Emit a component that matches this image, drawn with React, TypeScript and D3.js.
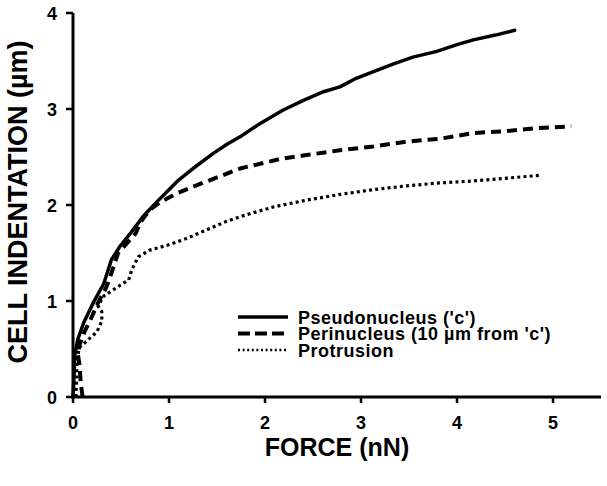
import React from "react";
import * as d3 from "d3";

const xTicks = [0, 1, 2, 3, 4, 5];
const yTicks = [0, 1, 2, 3, 4];

const pseudonucleus: [number, number][] = [
  [0, 0], [0.01, 0.2], [0.02, 0.45], [0.05, 0.6], [0.11, 0.77], [0.21, 0.98], [0.32, 1.18],
  [0.4, 1.43], [0.49, 1.57], [0.61, 1.72], [0.73, 1.88], [0.87, 2.03], [1.01, 2.17],
  [1.1, 2.26], [1.25, 2.38], [1.45, 2.53], [1.6, 2.63], [1.74, 2.71], [1.95, 2.85],
  [2.19, 2.99], [2.4, 3.09], [2.61, 3.18], [2.78, 3.23], [2.95, 3.32], [3.13, 3.39],
  [3.34, 3.47], [3.54, 3.54], [3.79, 3.6], [4.0, 3.67], [4.17, 3.72], [4.4, 3.77], [4.6, 3.82],
];

const perinucleus: [number, number][] = [
  [0.1, 0], [0.08, 0.15], [0.07, 0.32], [0.05, 0.45], [0.07, 0.55], [0.12, 0.68], [0.18, 0.8],
  [0.26, 0.98], [0.35, 1.15], [0.4, 1.29], [0.47, 1.5], [0.56, 1.6], [0.65, 1.7], [0.71, 1.83],
  [0.8, 1.95], [0.91, 2.03], [1.08, 2.12], [1.25, 2.19], [1.43, 2.26], [1.74, 2.38],
  [1.95, 2.43], [2.16, 2.48], [2.43, 2.52], [2.78, 2.57], [3.13, 2.61], [3.47, 2.66],
  [3.82, 2.69], [4.17, 2.75], [4.52, 2.77], [4.83, 2.8], [5.19, 2.82],
];

const protrusion: [number, number][] = [
  [0.03, 0], [0.04, 0.2], [0.04, 0.4], [0.07, 0.52], [0.14, 0.58], [0.25, 0.68], [0.3, 0.79],
  [0.3, 0.89], [0.26, 0.95], [0.32, 1.05], [0.47, 1.15], [0.58, 1.22], [0.61, 1.32],
  [0.68, 1.46], [0.8, 1.53], [0.98, 1.58], [1.18, 1.65], [1.39, 1.74], [1.6, 1.83],
  [1.81, 1.9], [2.09, 1.98], [2.43, 2.05], [2.78, 2.11], [3.13, 2.16], [3.48, 2.2],
  [3.82, 2.23], [4.17, 2.25], [4.52, 2.28], [4.88, 2.31],
];

const seriesNames = ["Pseudonucleus ('c')", "Perinucleus (10 µm from 'c')", "Protrusion"];

export default function App() {
  const x = d3.scaleLinear().domain([0, 5.5]).range([73, 601]);
  const y = d3.scaleLinear().domain([0, 4]).range([397, 13]);
  const line = d3
    .line<[number, number]>()
    .x((d) => x(d[0]))
    .y((d) => y(d[1]));

  const font = "'Liberation Sans', Arial, sans-serif";
  const styles = [
    { dash: undefined as string | undefined, width: 3.5, cap: "round" as const },
    { dash: "10 6", width: 4, cap: "butt" as const },
    { dash: "3 3.2", width: 3.2, cap: "butt" as const },
  ];
  const legendStyles = [
    { dash: undefined as string | undefined, width: 3.5, cap: "butt" as const },
    { dash: "12 5", width: 4, cap: "butt" as const },
    { dash: "2 2.6", width: 2.6, cap: "butt" as const },
  ];
  const data = [pseudonucleus, perinucleus, protrusion];
  const legendY = [317, 333.5, 350];

  return (
    <svg
      width={607}
      height={486}
      style={{ position: "absolute", left: 0, top: 0, display: "block", background: "#fff" }}
      fontFamily={font}
      fontWeight="bold"
    >
      <rect width={607} height={486} fill="#fff" />
      {data.map((d, i) => (
        <path
          key={i}
          d={line(d) || ""}
          fill="none"
          stroke="#000"
          strokeWidth={styles[i].width}
          strokeDasharray={styles[i].dash}
          strokeLinecap={styles[i].cap}
          strokeLinejoin="round"
        />
      ))}
      {/* axes */}
      <line x1={x(0)} x2={x(0)} y1={y(0) + 1.5} y2={y(4)} stroke="#000" strokeWidth={3} />
      <line x1={x(0) - 1.5} x2={x(5.5)} y1={y(0)} y2={y(0)} stroke="#000" strokeWidth={3} />
      {yTicks.map((t) => (
        <g key={"y" + t}>
          <line x1={x(0) - 7} x2={x(0)} y1={y(t)} y2={y(t)} stroke="#000" strokeWidth={2.5} />
          <text x={57} y={y(t) + 6.5} textAnchor="end" fontSize={18}>
            {t}
          </text>
        </g>
      ))}
      {xTicks.map((t) => (
        <g key={"x" + t}>
          <line x1={x(t)} x2={x(t)} y1={y(0)} y2={y(0) + 6} stroke="#000" strokeWidth={2.5} />
          <text x={x(t)} y={429} textAnchor="middle" fontSize={18}>
            {t}
          </text>
        </g>
      ))}
      <text x={337} y={456} textAnchor="middle" fontSize={25}>
        FORCE (nN)
      </text>
      <text transform="translate(27,202) rotate(-90)" textAnchor="middle" fontSize={27}>
        CELL INDENTATION (µm)
      </text>
      {/* legend */}
      {seriesNames.map((name, i) => (
        <g key={name}>
          <line
            x1={238}
            x2={288}
            y1={legendY[i]}
            y2={legendY[i]}
            stroke="#000"
            strokeWidth={legendStyles[i].width}
            strokeDasharray={legendStyles[i].dash}
            strokeLinecap={legendStyles[i].cap}
          />
          <text x={298} y={legendY[i] + 6.5} fontSize={18} letterSpacing={0.5}>
            {name}
          </text>
        </g>
      ))}
    </svg>
  );
}
